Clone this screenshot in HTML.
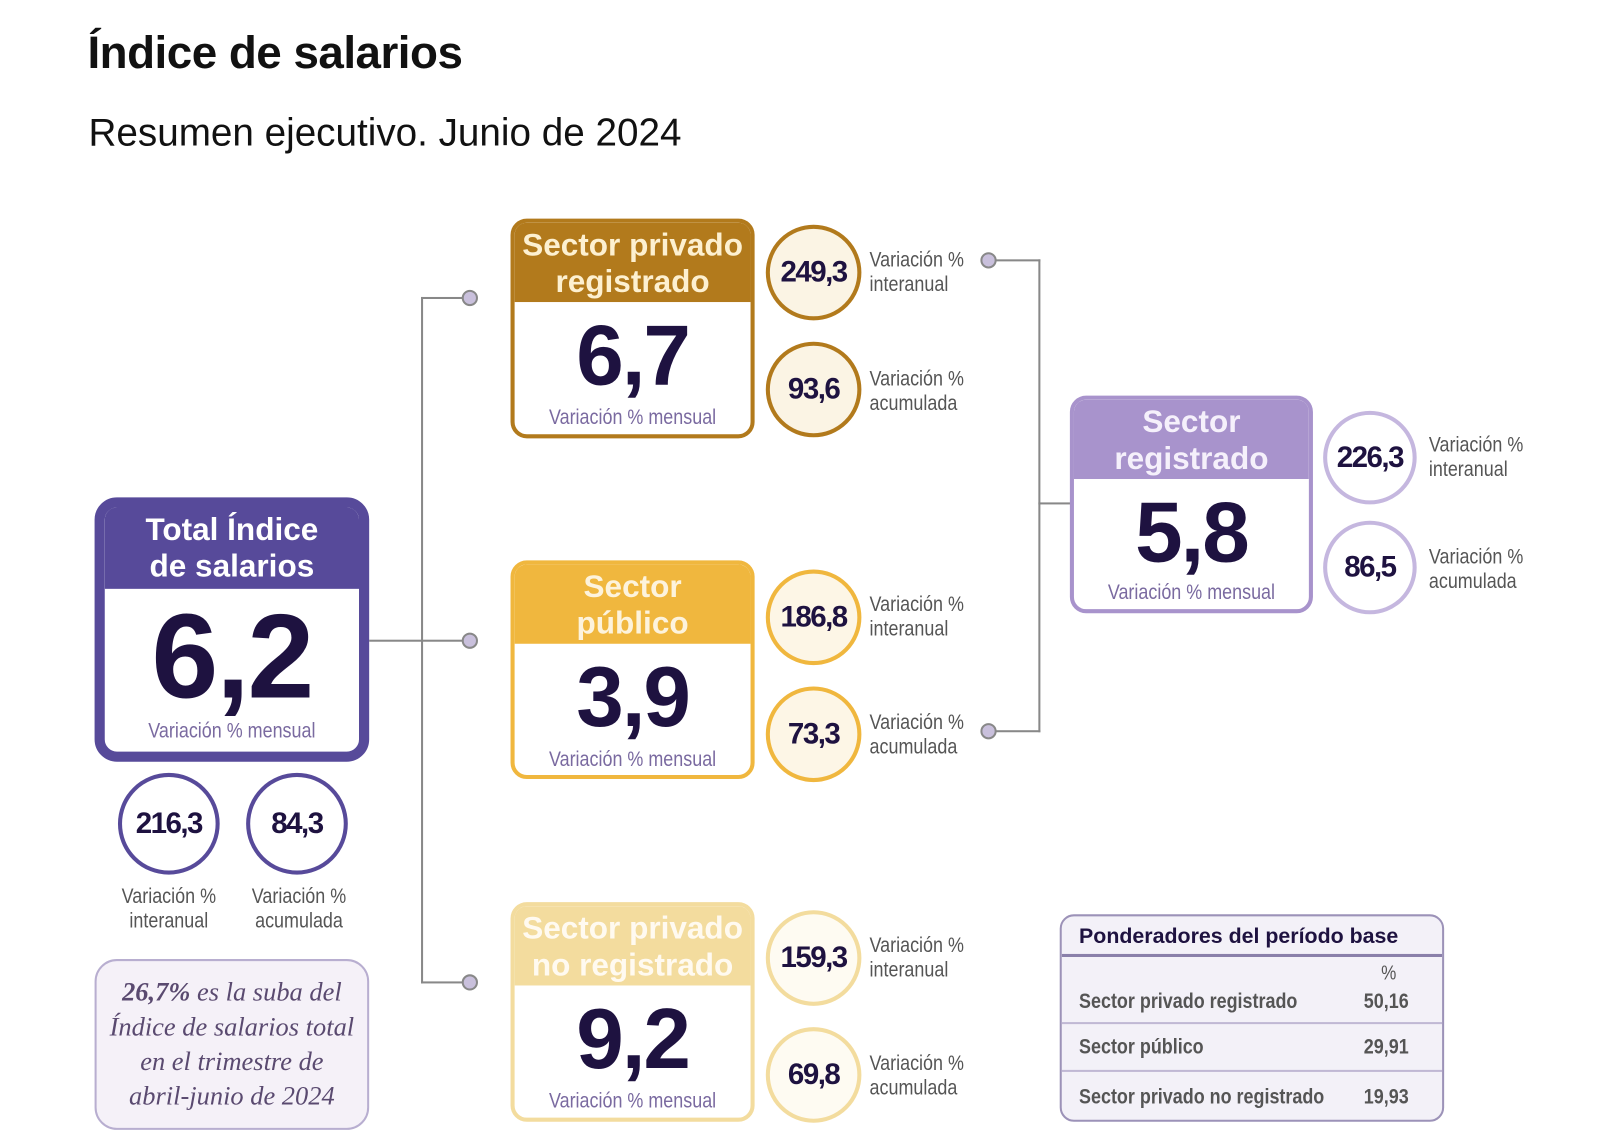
<!DOCTYPE html>
<html><head><meta charset="utf-8"><style>
*{margin:0;padding:0;box-sizing:border-box}
body{width:1600px;height:1147px;background:#fff;position:relative;overflow:hidden;font-family:"Liberation Sans",sans-serif}
#w{position:absolute;left:0;top:0;width:1570px;height:1127px;transform:scale(1.017);transform-origin:0 0}
.a{position:absolute}
.box{position:absolute;border-radius:16px;background:#fff;overflow:hidden}
.hd{position:absolute;left:0;right:0;top:0;text-align:center;color:#fff;font-weight:bold;font-size:31px;line-height:36px}
.big{position:absolute;left:0;right:0;text-align:center;font-weight:bold;color:#1e1240;letter-spacing:-2px}
.men{position:absolute;left:0;right:0;text-align:center;color:#7a6aa0;font-size:21px;white-space:nowrap;transform:scaleX(.84)}
.c{position:absolute;border-radius:50%;display:flex;align-items:center;justify-content:center;font-weight:bold;color:#1e1240;font-size:29px;letter-spacing:-1.5px}
.lb{position:absolute;color:#555;font-size:21px;line-height:24px;white-space:nowrap;transform:scaleX(.84);transform-origin:0 0}
.lc{transform-origin:50% 0}
.ln{position:absolute;background:#888}
.dot{position:absolute;width:16px;height:16px;border-radius:50%;background:#c9c0dc;border:2px solid #888}
</style></head><body><div id="w">
<div class="a" style="left:86px;top:26px;font-size:45px;font-weight:bold;color:#111;letter-spacing:-0.5px">Índice de salarios</div>
<div class="a" style="left:87px;top:110px;font-size:38px;color:#111">Resumen ejecutivo. Junio de 2024</div>

<div class="ln" style="left:363px;top:629px;width:92px;height:2px"></div>
<div class="ln" style="left:414px;top:292px;width:2px;height:675px"></div>
<div class="ln" style="left:414px;top:292px;width:42px;height:2px"></div>
<div class="ln" style="left:414px;top:965px;width:42px;height:2px"></div>
<div class="dot" style="left:454px;top:285px"></div>
<div class="dot" style="left:454px;top:622px"></div>
<div class="dot" style="left:454px;top:958px"></div>
<div class="ln" style="left:978px;top:255px;width:45px;height:2px"></div>
<div class="ln" style="left:978px;top:718px;width:45px;height:2px"></div>
<div class="ln" style="left:1021px;top:255px;width:2px;height:465px"></div>
<div class="ln" style="left:1021px;top:494px;width:32px;height:2px"></div>
<div class="dot" style="left:964px;top:248px"></div>
<div class="dot" style="left:964px;top:711px"></div>

<div class="box" style="left:93px;top:489px;width:270px;height:260px;border:10px solid #574a9a;border-radius:22px">
 <div class="hd" style="background:#574a9a;height:82px;top:-2px;padding-top:6px">Total Índice<br>de salarios</div>
 <div class="big" style="top:88px;font-size:118px;line-height:118px">6,2</div>
 <div class="men" style="top:208px">Variación % mensual</div>
</div>
<div class="c" style="left:116px;top:760px;width:100px;height:100px;border:4px solid #574a9a">216,3</div>
<div class="c" style="left:242px;top:760px;width:100px;height:100px;border:4px solid #574a9a">84,3</div>
<div class="lb lc" style="left:106px;top:870px;width:120px;text-align:center">Variación %<br>interanual</div>
<div class="lb lc" style="left:232px;top:870px;width:124px;text-align:center">Variación %<br>acumulada</div>
<div class="a" style="left:93px;top:943px;width:270px;height:168px;border:2px solid #b8aed0;border-radius:22px;background:#f5f1f8;text-align:center;font-family:'Liberation Serif',serif;font-style:italic;color:#5a4a70;font-size:26px;line-height:34px;padding-top:14px;white-space:nowrap"><b>26,7%</b> es la suba del<br>Índice de salarios total<br>en el trimestre de<br>abril-junio de 2024</div>

<div class="box" style="left:502px;top:215px;width:240px;height:216px;border:4px solid #b27a1c">
 <div class="hd" style="background:#b27a1c;height:78px;padding-top:4px;color:#fdf0d0">Sector privado<br>registrado</div>
 <div class="big" style="top:88px;font-size:84px;line-height:84px">6,7</div>
 <div class="men" style="top:180px">Variación % mensual</div>
</div>
<div class="c" style="left:753px;top:221px;width:94px;height:94px;border:4px solid #b27a1c;background:#fbf4e4">249,3</div>
<div class="c" style="left:753px;top:336px;width:94px;height:94px;border:4px solid #b27a1c;background:#fbf4e4">93,6</div>
<div class="lb" style="left:855px;top:244px">Variación %<br>interanual</div>
<div class="lb" style="left:855px;top:361px">Variación %<br>acumulada</div>

<div class="box" style="left:502px;top:551px;width:240px;height:215px;border:4px solid #f0b73e">
 <div class="hd" style="background:#f0b73e;height:78px;padding-top:4px;color:#fdf3dc">Sector<br>público</div>
 <div class="big" style="top:88px;font-size:84px;line-height:84px">3,9</div>
 <div class="men" style="top:180px">Variación % mensual</div>
</div>
<div class="c" style="left:753px;top:560px;width:94px;height:94px;border:4px solid #f0b73e;background:#fdf6e6">186,8</div>
<div class="c" style="left:753px;top:675px;width:94px;height:94px;border:4px solid #f0b73e;background:#fdf6e6">73,3</div>
<div class="lb" style="left:855px;top:583px">Variación %<br>interanual</div>
<div class="lb" style="left:855px;top:699px">Variación %<br>acumulada</div>

<div class="box" style="left:502px;top:887px;width:240px;height:216px;border:4px solid #f3dc9e">
 <div class="hd" style="background:#f3dc9e;height:78px;padding-top:4px;color:#fffaf0">Sector privado<br>no registrado</div>
 <div class="big" style="top:88px;font-size:84px;line-height:84px">9,2</div>
 <div class="men" style="top:180px">Variación % mensual</div>
</div>
<div class="c" style="left:753px;top:895px;width:94px;height:94px;border:4px solid #f3dc9e;background:#fefbf2">159,3</div>
<div class="c" style="left:753px;top:1010px;width:94px;height:94px;border:4px solid #f3dc9e;background:#fefbf2">69,8</div>
<div class="lb" style="left:855px;top:918px">Variación %<br>interanual</div>
<div class="lb" style="left:855px;top:1034px">Variación %<br>acumulada</div>

<div class="box" style="left:1052px;top:389px;width:239px;height:214px;border:4px solid #a893cc">
 <div class="hd" style="background:#a893cc;height:78px;padding-top:4px;color:#f5f0fb">Sector<br>registrado</div>
 <div class="big" style="top:88px;font-size:84px;line-height:84px">5,8</div>
 <div class="men" style="top:178px">Variación % mensual</div>
</div>
<div class="c" style="left:1301px;top:404px;width:92px;height:92px;border:4px solid #c5b7df">226,3</div>
<div class="c" style="left:1301px;top:512px;width:92px;height:92px;border:4px solid #c5b7df">86,5</div>
<div class="lb" style="left:1405px;top:426px">Variación %<br>interanual</div>
<div class="lb" style="left:1405px;top:536px">Variación %<br>acumulada</div>

<div class="a" style="left:1042px;top:899px;width:378px;height:204px;border:2px solid #9c92b8;border-radius:14px;background:#f3f1f8;overflow:hidden">
 <div class="a" style="left:0;right:0;top:0;height:40px;border-bottom:3px solid #8a80aa;font-weight:bold;color:#1e1240;font-size:21px;padding:8px 0 0 17px;white-space:nowrap">Ponderadores del período base</div>
 <div class="lb" style="left:314px;top:44px;font-size:20px">%</div>
 <div class="lb" style="left:17px;top:72px;font-weight:bold">Sector privado registrado</div>
 <div class="lb" style="left:297px;top:72px;font-weight:bold">50,16</div>
 <div class="a" style="left:0;right:0;top:104px;height:2px;background:#c0b8d4"></div>
 <div class="lb" style="left:17px;top:117px;font-weight:bold">Sector público</div>
 <div class="lb" style="left:297px;top:117px;font-weight:bold">29,91</div>
 <div class="a" style="left:0;right:0;top:151px;height:2px;background:#c0b8d4"></div>
 <div class="lb" style="left:17px;top:166px;font-weight:bold">Sector privado no registrado</div>
 <div class="lb" style="left:297px;top:166px;font-weight:bold">19,93</div>
</div>
</div></body></html>
